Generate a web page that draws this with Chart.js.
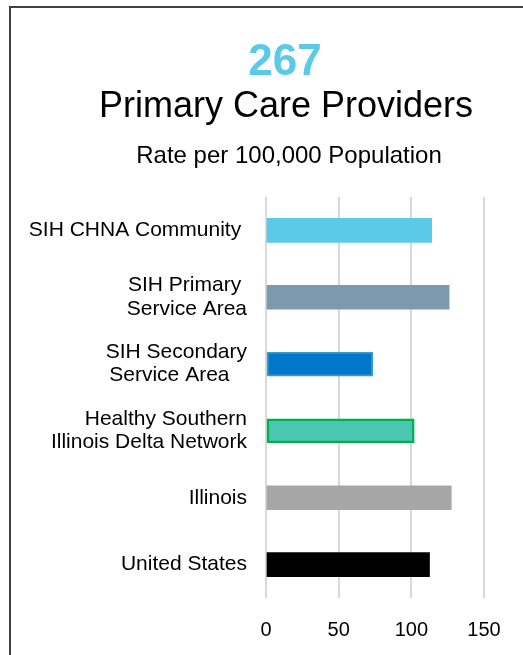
<!DOCTYPE html>
<html>
<head>
<meta charset="utf-8">
<script src="https://cdn.jsdelivr.net/npm/chart.js@4.4.1/dist/chart.umd.min.js"></script>
<style>
    html, body { margin: 0; padding: 0; background: #fff; overflow: hidden; }
    #frame {
        position: absolute; left: 9px; top: 6px; width: 600px; height: 700px;
        border: 2px solid #404040; box-sizing: border-box;
    }
    #wrap { position: absolute; left: 0; top: 0; width: 523px; height: 655px; }
</style>
</head>
<body>
<div id="frame"></div>
<div id="wrap"><canvas id="providersChart" width="523" height="655"></canvas></div>
<script>
// data
const headline = "267";
const chartTitle = "Primary Care Providers";
const chartSubtitle = "Rate per 100,000 Population";
const categories = [
    ["SIH CHNA Community "],
    ["SIH Primary ", "Service Area"],
    ["SIH Secondary", "Service Area   "],
    ["Healthy Southern", "Illinois Delta Network"],
    ["Illinois"],
    ["United States"],
];
const rates = [114, 126, 73.5, 102, 127.5, 112.5];
const barColors = ["#5BC9E8", "#7B9AAD", "#0077C8", "#4BC6B1", "#A6A6A6", "#000000"];
const barBorders = ["#5BC9E8", "#7B9AAD", "#3A9BC8", "#00B050", "#A6A6A6", "#000000"];
const barBorderWidths = [0, 0, 2, 2.5, 0, 0];
const xTicks = [0, 50, 100, 150];

const FONT = "'Liberation Sans', Arial, sans-serif";

/** --------------- Header text ---------------- */
const headerPlugin = {
    id: "header",
    afterDraw(chart) {
        const ctx = chart.ctx;
        ctx.save();
        ctx.textAlign = "center";
        ctx.textBaseline = "alphabetic";
        ctx.fillStyle = "#5BC9E8";
        ctx.font = "bold 44px " + FONT;
        ctx.fillText(headline, 285, 75);
        ctx.fillStyle = "#000";
        ctx.font = "36px " + FONT;
        ctx.fillText(chartTitle, 286, 117);
        ctx.font = "24px " + FONT;
        ctx.fillText(chartSubtitle, 289, 163);
        ctx.restore();
    },
};

new Chart(document.getElementById("providersChart").getContext("2d"), {
    type: "bar",
    data: {
        labels: categories,
        datasets: [
            {
                data: rates,
                backgroundColor: barColors,
                borderColor: barBorders,
                borderWidth: barBorderWidths,
                borderSkipped: false,
                barThickness: 24,
            },
        ],
    },
    options: {
        indexAxis: "y",
        responsive: false,
        animation: false,
        layout: { padding: { top: 197, right: 39, bottom: 0, left: 0 } },
        scales: {
            x: {
                min: 0,
                max: 150,
                afterBuildTicks: s => { s.ticks = xTicks.map(v => ({ value: v })); },
                afterFit: s => { s.height = 57; },
                grid: { color: "#D9D9D9", lineWidth: 2, drawTicks: false },
                border: { display: false },
                ticks: { color: "#000", padding: 20, font: { family: FONT, size: 20 } },
            },
            y: {
                afterFit: s => { s.width = 266; },
                grid: { display: false, drawTicks: false },
                border: { display: false },
                ticks: { color: "#000", padding: 19, font: { family: FONT, size: 21, lineHeight: 1.1 } },
            },
        },
        plugins: {
            legend: { display: false },
            title: { display: false },
            tooltip: { enabled: false },
        },
    },
    plugins: [headerPlugin],
});
</script>
</body>
</html>
